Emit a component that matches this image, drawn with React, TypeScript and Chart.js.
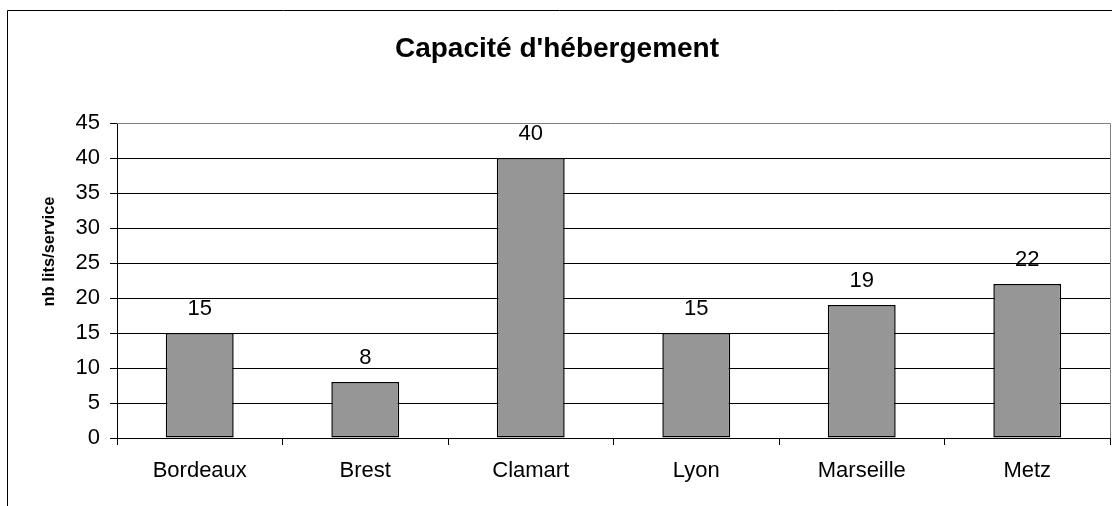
import React, { useEffect, useRef } from "react";
import { Chart, registerables } from "chart.js";

Chart.register(...registerables);

const categories = ["Bordeaux", "Brest", "Clamart", "Lyon", "Marseille", "Metz"];
const values = [15, 8, 40, 15, 19, 22];
const chartTitle = "Capacité d'hébergement";
const yAxisTitle = "nb lits/service";
const yMin = 0;
const yMax = 45;
const yStep = 5;

const FONT = "'Liberation Sans', Arial, sans-serif";

const decorPlugin = {
  id: "decor",
  afterDraw(chart: any) {
    const ctx = chart.ctx;
    const area = chart.chartArea;
    ctx.save();
    // outer frame (left and top visible)
    ctx.strokeStyle = "#000";
    ctx.lineWidth = 1;
    ctx.beginPath();
    ctx.moveTo(7.5, 506);
    ctx.lineTo(7.5, 10.5);
    ctx.lineTo(1112, 10.5);
    ctx.stroke();
    // plot area border top & right (gray)
    ctx.strokeStyle = "#808080";
    ctx.beginPath();
    ctx.moveTo(area.left, Math.round(area.top) + 0.5);
    ctx.lineTo(Math.round(area.right) + 0.5, Math.round(area.top) + 0.5);
    ctx.lineTo(Math.round(area.right) + 0.5, Math.round(area.bottom));
    ctx.stroke();
    // title
    ctx.fillStyle = "#000";
    ctx.font = "bold 28px " + FONT;
    ctx.textAlign = "center";
    ctx.textBaseline = "alphabetic";
    ctx.fillText(chartTitle, 557, 56.5);
    // y axis title
    ctx.save();
    ctx.translate(53.5, 251.5);
    ctx.rotate(-Math.PI / 2);
    ctx.font = "bold 16.5px " + FONT;
    ctx.textAlign = "center";
    ctx.textBaseline = "alphabetic";
    ctx.fillText(yAxisTitle, 0, 0);
    ctx.restore();
    // data labels
    const meta = chart.getDatasetMeta(0);
    ctx.font = "22px " + FONT;
    ctx.textAlign = "center";
    ctx.textBaseline = "alphabetic";
    meta.data.forEach((bar: any, i: number) => {
      ctx.fillText(String(values[i]), bar.x, bar.y - 18);
    });
    ctx.restore();
  },
};

export default function App() {
  const ref = useRef<HTMLCanvasElement | null>(null);
  useEffect(() => {
    document.body.style.margin = "0";
    document.body.style.overflow = "hidden";
    const canvas = ref.current!;
    const chart = new Chart(canvas, {
      type: "bar",
      data: {
        labels: categories,
        datasets: [
          {
            data: values,
            backgroundColor: "#969696",
            borderColor: "#000",
            borderWidth: 1.5,
            borderSkipped: false,
            categoryPercentage: 1,
            barPercentage: 0.41,
          },
        ],
      },
      options: {
        animation: false,
        responsive: false,
        devicePixelRatio: 1,
        layout: { padding: { top: 123, right: 2, left: 0, bottom: 0 } },
        plugins: {
          legend: { display: false },
          title: { display: false },
          tooltip: { enabled: false },
        },
        scales: {
          x: {
            afterFit: (s: any) => {
              s.height = 68;
            },
            grid: {
              display: true,
              drawOnChartArea: false,
              drawTicks: true,
              tickLength: 7,
              color: "#000",
              offset: true,
            },
            border: { display: true, color: "#000", width: 1 },
            ticks: {
              color: "#000",
              font: { family: FONT, size: 22 },
              padding: 13,
              maxRotation: 0,
            },
          },
          y: {
            min: yMin,
            max: yMax,
            afterFit: (s: any) => {
              s.width = 117;
            },
            grid: {
              color: "#000",
              lineWidth: 1,
              drawTicks: true,
              tickLength: 7,
            },
            border: { display: true, color: "#000", width: 1 },
            ticks: {
              stepSize: yStep,
              color: "#000",
              font: { family: FONT, size: 22 },
              padding: 10,
            },
          },
        },
      },
      plugins: [decorPlugin],
    });
    return () => chart.destroy();
  }, []);
  return (
    <div style={{ position: "absolute", left: 0, top: 0, width: 1112, height: 506, background: "#fff" }}>
      <canvas ref={ref} width={1112} height={506} style={{ display: "block" }} />
    </div>
  );
}
